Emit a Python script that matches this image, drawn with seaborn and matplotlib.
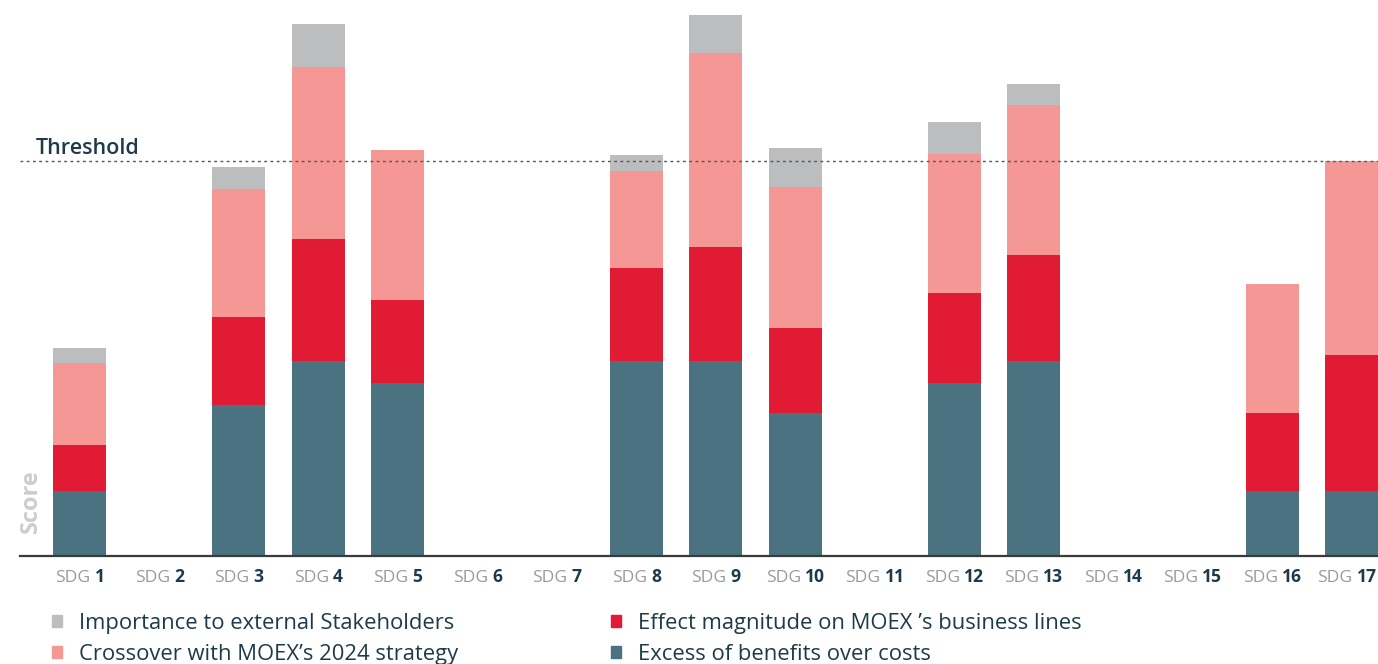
import matplotlib
matplotlib.use("Agg")
import matplotlib.pyplot as plt
import matplotlib.transforms as mtransforms
from matplotlib.patches import Patch
from matplotlib.offsetbox import TextArea, HPacker, AnnotationBbox
import numpy as np
import pandas as pd
import seaborn as sns

# ---- data ----
sdg_numbers = [str(i) for i in range(1, 18)]
excess_benefits = [6.5, 0, 15.1, 19.5, 17.3, 0, 0, 19.5, 19.5, 14.3, 0, 17.3, 19.5, 0, 0, 6.5, 6.5]
effect_magnitude = [4.6, 0, 8.8, 12.2, 8.3, 0, 0, 9.3, 11.4, 8.5, 0, 9.0, 10.6, 0, 0, 7.8, 13.6]
crossover_strategy = [8.2, 0, 12.8, 17.2, 15.0, 0, 0, 9.7, 19.4, 14.1, 0, 13.9, 15.0, 0, 0, 12.9, 19.4]
importance_stakeholders = [1.5, 0, 2.2, 4.3, 0, 0, 0, 1.6, 3.8, 3.9, 0, 3.2, 2.1, 0, 0, 0, 0]
threshold = 39.5

series_names = ["Importance to external Stakeholders",
                "Crossover with MOEX\u2019s 2024 strategy",
                "Effect magnitude on MOEX \u2019s business lines",
                "Excess of benefits over costs"]
colors = {"gray": "#BCBDBF", "pink": "#F59795", "red": "#E11B33", "teal": "#4A7280"}
dark = "#1E3A4A"

sns.set_theme(style="white")
plt.rcParams["font.family"] = ["Open Sans", "DejaVu Sans"]

cats = ["SDG " + n for n in sdg_numbers]
df = pd.DataFrame({
    "sdg": cats,
    "teal": excess_benefits,
    "red": effect_magnitude,
    "pink": crossover_strategy,
    "gray": importance_stakeholders,
})
df["c_teal"] = df["teal"]
df["c_red"] = df["c_teal"] + df["red"]
df["c_pink"] = df["c_red"] + df["pink"]
df["c_gray"] = df["c_pink"] + df["gray"]

W, H = 1378, 664
fig = plt.figure(figsize=(W / 100, H / 100), dpi=100)
ax = fig.add_axes([20 / W, 108 / H, 1358 / W, 556 / H])

bw = 0.667
for key in ["gray", "pink", "red", "teal"]:
    sns.barplot(data=df, x="sdg", y="c_" + key, color=colors[key], width=bw,
                saturation=1, ax=ax, linewidth=0, order=cats)

ax.set_xlim(-0.754, 16.33)
ax.set_ylim(0, 55.6)
ax.set_xlabel("")
ax.set_ylabel("")
ax.set_yticks([])
ax.set_xticks([])
for s in ["top", "right", "left"]:
    ax.spines[s].set_visible(False)
ax.spines["bottom"].set_color("#3a3a3a")
ax.spines["bottom"].set_linewidth(1.6)

# threshold
ax.axhline(threshold, color="#555555", lw=1.0, ls=(0, (2, 2.5)))
tr = mtransforms.blended_transform_factory(ax.transAxes, ax.transData)
ax.text(16 / 1358, threshold + 0.7, "Threshold", transform=tr, ha="left", va="baseline",
        fontsize=15.5, color=dark, fontweight="semibold")

# score label
ax.text(11 / 1358, 5.5, "Score", transform=tr, ha="center", va="center", rotation=90,
        fontsize=17, color="#CDCDCD", fontweight="bold")

# tick labels: gray "SDG" + bold dark number
trx = mtransforms.blended_transform_factory(ax.transData, ax.transAxes)
for i, n in enumerate(sdg_numbers):
    t1 = TextArea("SDG", textprops=dict(color="#9A9A9A", fontsize=12.6))
    t2 = TextArea(n, textprops=dict(color=dark, fontsize=12.6, fontweight="bold"))
    box = HPacker(children=[t1, t2], align="baseline", pad=0, sep=3)
    dx = -3.5 if i == len(sdg_numbers) - 1 else 0
    ab = AnnotationBbox(box, (i, 0), xycoords=trx, xybox=(dx, -8.5), boxcoords="offset points",
                        box_alignment=(0.5, 1), frameon=False, pad=0)
    ax.add_artist(ab)

# legends
h = [Patch(color=colors[k]) for k in ["gray", "pink", "red", "teal"]]
leg_kw = dict(frameon=False, fontsize=15.8, handlelength=0.45, handleheight=0.45,
              handletextpad=0.77, labelspacing=0.45, loc="upper left", labelcolor=dark,
              borderaxespad=0, borderpad=0)
leg1 = fig.legend(h[:2], series_names[:2], bbox_to_anchor=(52 / W, 1 - 613 / H), **leg_kw)
leg2 = fig.legend(h[2:], series_names[2:], bbox_to_anchor=(611 / W, 1 - 613 / H), **leg_kw)

fig.savefig("out.png", dpi=100)
